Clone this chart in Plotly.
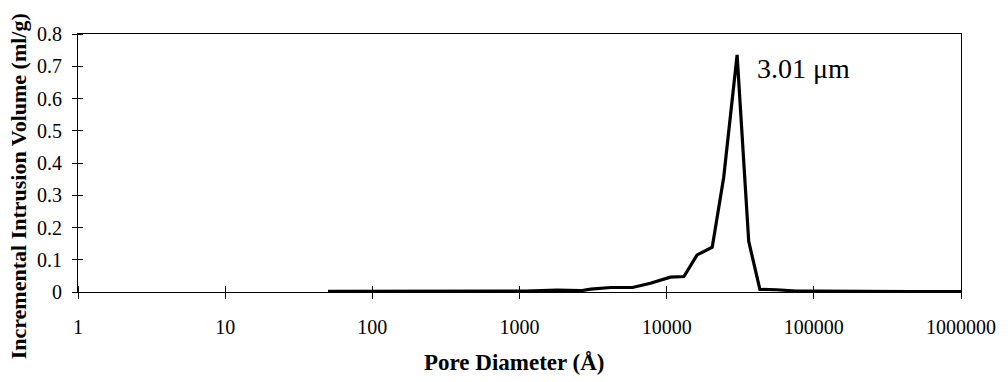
import plotly.graph_objects as go
import math

# Data
pore_diameter_A = [50, 70, 100, 140, 200, 280, 400, 560, 800, 1100, 1800, 2600,
                   3050, 4160, 5860, 7760, 10600, 13100, 16100, 20400, 24400,
                   30100, 36100, 43000, 56000, 76000, 105000, 150000, 220000,
                   320000, 460000, 680000, 1000000]
incremental_volume = [0.002, 0.002, 0.002, 0.002, 0.002, 0.002, 0.002, 0.002, 0.002,
                      0.003, 0.006, 0.004, 0.009, 0.014, 0.014, 0.027, 0.046, 0.048,
                      0.115, 0.139, 0.355, 0.735, 0.157, 0.008, 0.007, 0.003, 0.003,
                      0.002, 0.001, 0.001, 0.001, 0.001, 0.001]

x_tickvals = [1, 10, 100, 1000, 10000, 100000, 1000000]
x_ticktext = ["1", "10", "100", "1000", "10000", "100000", "1000000"]
y_tickvals = [0, 0.1, 0.2, 0.3, 0.4, 0.5, 0.6, 0.7, 0.8]
y_ticktext = ["0", "0.1", "0.2", "0.3", "0.4", "0.5", "0.6", "0.7", "0.8"]

peak_label = "3.01 μm"
peak_x = 30100
peak_y = 0.684

FONT = "Liberation Serif, Times New Roman, serif"

fig = go.Figure()
fig.add_trace(go.Scatter(
    x=pore_diameter_A, y=incremental_volume, mode="lines",
    line=dict(color="black", width=3.2), showlegend=False, hoverinfo="skip"))

fig.update_layout(
    width=1008, height=382,
    margin=dict(l=78, r=42, t=34, b=90),
    paper_bgcolor="white", plot_bgcolor="white",
    font=dict(family=FONT, color="black", size=20),
    showlegend=False,
)

fig.update_xaxes(
    type="log", range=[0, 6],
    tickmode="array", tickvals=x_tickvals, ticktext=x_ticktext,
    ticks="outside", ticklen=6, tickwidth=1, tickcolor="black",
    minor=dict(tickmode="array", tickvals=x_tickvals, ticks="inside",
               ticklen=6, tickwidth=1, tickcolor="black", showgrid=False),
    showline=True, linecolor="black", linewidth=1, mirror=True,
    showgrid=False, zeroline=False,
    tickfont=dict(family=FONT, size=20, color="black"),
    ticklabelstandoff=11,
)
fig.update_yaxes(
    range=[0, 0.8],
    tickmode="array", tickvals=y_tickvals, ticktext=y_ticktext,
    ticks="outside", ticklen=5, tickwidth=1, tickcolor="black",
    minor=dict(tickmode="array", tickvals=y_tickvals, ticks="inside",
               ticklen=5, tickwidth=1, tickcolor="black", showgrid=False),
    showline=True, linecolor="black", linewidth=1, mirror=True,
    showgrid=False, zeroline=False,
    tickfont=dict(family=FONT, size=20, color="black"),
    ticklabelstandoff=6,
)

fig.add_annotation(
    x=math.log10(peak_x), y=peak_y, xref="x", yref="y",
    text=peak_label, showarrow=False, xanchor="left", yanchor="middle",
    xshift=18, yshift=3, font=dict(family=FONT, size=28, color="black"))

fig.add_annotation(
    x=(517 - 78) / 888, y=(292 - 362) / 258, xref="paper", yref="paper",
    text="<b>Pore Diameter (Å)</b>", showarrow=False,
    xanchor="center", yanchor="middle",
    font=dict(family=FONT, size=23, color="black"))

fig.add_annotation(
    x=(19 - 78) / 888, y=(292 - 186) / 258, xref="paper", yref="paper",
    text="<b>Incremental Intrusion Volume (ml/g)</b>", showarrow=False,
    textangle=-90, xanchor="center", yanchor="middle",
    font=dict(family=FONT, size=22, color="black"))

fig.write_html("out.html")
